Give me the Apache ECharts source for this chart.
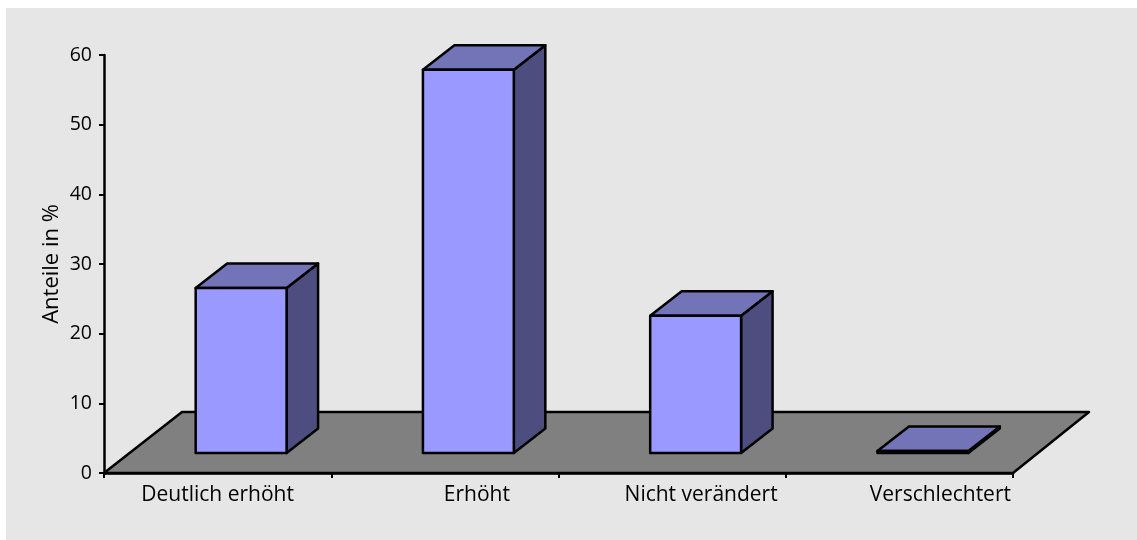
<!DOCTYPE html>
<html>
<head>
    <meta charset="utf-8">
    <script src="https://cdn.jsdelivr.net/npm/echarts@6/dist/echarts.min.js"></script>
    <style>
        html, body { margin: 0; padding: 0; background: #fff; }
    </style>
</head>
<body>
<div id="myChart" style="width: 1137px; height: 540px;"></div>

<script type="text/javascript">
    var categories = ['Deutlich erhöht', 'Erhöht', 'Nicht verändert', 'Verschlechtert'];
    var shares = [23.7, 55, 19.7, 0.3];
    var labelShift = [0, 32, 29, 41];  // labels sit right of the band centre in the original

    var FONT = '"Open Sans", "Noto Sans", sans-serif';

    var chart = echarts.init(document.getElementById('myChart'));

    function renderFloor(params, api) {
        var c = params.coordSys;
        var x0 = c.x, x1 = c.x + c.width, y = c.y + c.height;
        return {
            type: 'polygon',
            shape: { points: [[x0, y], [x0 + 78, y - 61], [x1 + 76, y - 61], [x1, y]] },
            style: { fill: '#808080', stroke: '#000', lineWidth: 2.5, lineJoin: 'round' },
        };
    }

    function renderBar(params, api) {
        var base = api.coord([api.value(0), 0]);
        var top = api.coord([api.value(0), api.value(1)]);
        var w = api.size([1, 0])[0] * 0.4;
        var l = base[0] + 23.5 - w / 2, r = l + w;
        var by = base[1] - 20, ty = top[1] - 20;
        var dx = 31.5, dy = 24.5;
        var st = { stroke: '#000', lineWidth: 2.5, lineJoin: 'round' };
        return {
            type: 'group',
            children: [{
                type: 'polygon',
                shape: { points: [[r, by], [r + dx, by - dy], [r + dx, ty - dy], [r, ty]] },
                style: Object.assign({ fill: '#4d4d80' }, st),
            }, {
                type: 'polygon',
                shape: { points: [[l, ty], [l + dx, ty - dy], [r + dx, ty - dy], [r, ty]] },
                style: Object.assign({ fill: '#7373b8' }, st),
            }, {
                type: 'rect',
                shape: { x: l, y: ty, width: w, height: by - ty },
                style: Object.assign({ fill: '#9999ff' }, st),
            }],
        };
    }

    var option = {
        animation: false,
        backgroundColor: '#fff',
        graphic: [{
            type: 'rect',
            z: -10,
            shape: { x: 6, y: 8, width: 1131, height: 532 },
            style: { fill: '#e6e6e6' },
        }],
        grid: { left: 104, top: 55, width: 909, height: 418 },
        xAxis: {
            type: 'category',
            boundaryGap: true,
            data: categories.map(function (name, i) {
                return {
                    value: name,
                    textStyle: {
                        color: '#000',
                        fontFamily: FONT,
                        fontSize: 21,
                        padding: [0, 0, 0, labelShift[i] * 2],
                    },
                };
            }),
            z: 5,
            axisLine: { lineStyle: { color: '#000', width: 2.5 } },
            axisTick: { show: true, length: 5, lineStyle: { color: '#000', width: 2 } },
            axisLabel: { interval: 0, margin: 12 },
            splitLine: { show: false },
        },
        yAxis: {
            type: 'value',
            min: 0,
            max: 60,
            interval: 10,
            z: 5,
            name: 'Anteile in %',
            nameLocation: 'middle',
            nameGap: 41,
            nameMoveOverlap: false,
            nameTextStyle: { color: '#000', fontFamily: FONT, fontSize: 22 },
            axisLine: { show: true, lineStyle: { color: '#000', width: 2.5 } },
            axisTick: { show: true, length: 5, lineStyle: { color: '#000', width: 2 } },
            axisLabel: { margin: 12, color: '#000', fontFamily: FONT, fontSize: 19.5 },
            splitLine: { show: false },
        },
        series: [{
            type: 'custom',
            name: 'floor',
            z: 1,
            silent: true,
            clip: false,
            data: [[0, 0]],
            renderItem: renderFloor,
        }, {
            type: 'custom',
            name: 'Anteile',
            z: 2,
            clip: false,
            encode: { x: 0, y: 1 },
            data: shares.map(function (v, i) { return [i, v]; }),
            renderItem: renderBar,
        }],
    };

    chart.setOption(option, true);
</script>
</body>
</html>
